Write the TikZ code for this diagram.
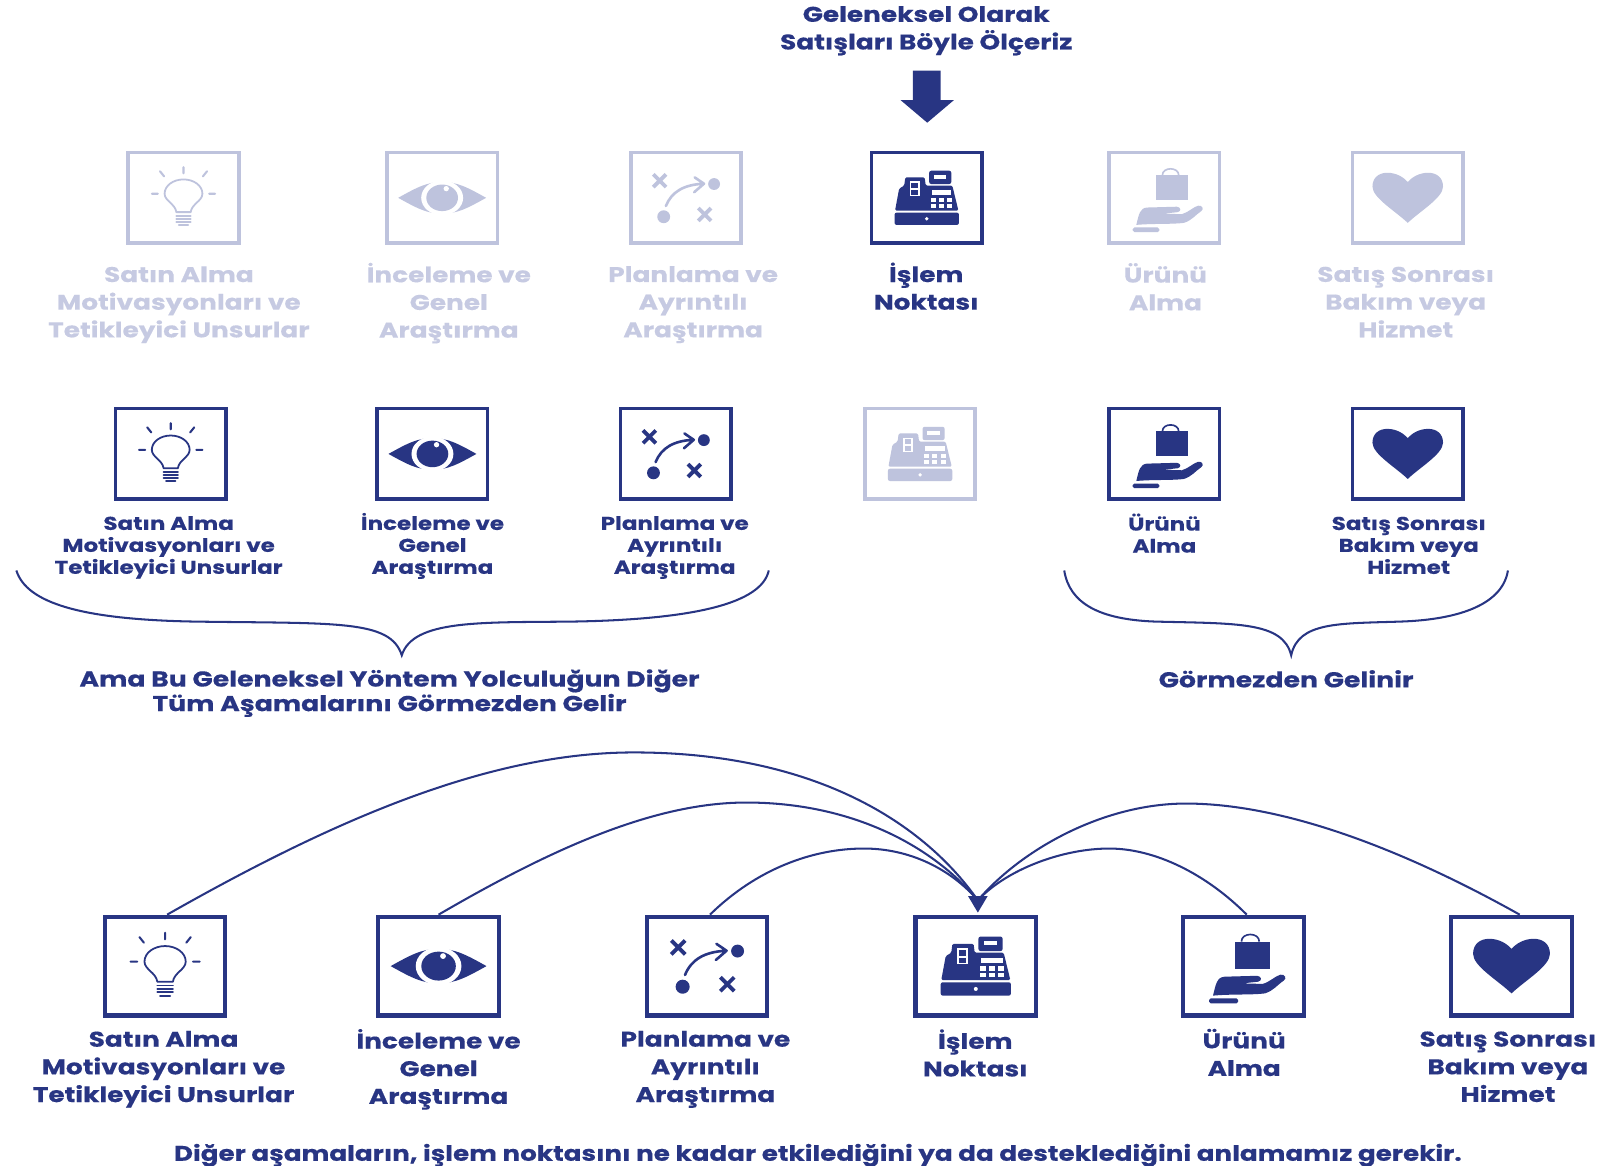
\documentclass[tikz,border=0pt]{standalone}
\usepackage{fontspec}
\setmainfont{Poppins}[FakeStretch=1.24,BoldFeatures={FakeBold=0.35}]
\usetikzlibrary{calc}
\definecolor{navy}{HTML}{283583}
\definecolor{pale}{HTML}{BEC3DD}
\definecolor{paletext}{HTML}{C6CAE2}
\tikzset{
 smallbox/.style={draw=#1,line width=2.7pt,minimum width=81pt,minimum height=66.5pt,inner sep=0pt,fill=white},
 bigbox/.style={draw=#1,line width=3pt,minimum width=88.5pt,minimum height=72.5pt,inner sep=0pt,fill=white},
 lbig/.style={font=\fontsize{15.6}{20.3}\selectfont\bfseries,align=center,inner sep=0pt,text=navy},
 lsmall/.style={font=\fontsize{13.6}{16.1}\selectfont\bfseries,align=center,inner sep=0pt,text=navy},
 conn/.style={draw=navy,line width=1.5pt},
 pics/bulb/.style={code={
  \draw[#1,line width=1.3pt,line cap=round,line join=round]
   (-7,14) .. controls (-8,6) and (-18.5,3) .. (-18.5,-4) .. controls (-18.5,-12) and (-10,-18) .. (0,-18)
   .. controls (10,-18) and (18.5,-12) .. (18.5,-4) .. controls (18.5,3) and (8,6) .. (7,14) -- cycle;
  \foreach \yy/\hw in {17.5/7,20.5/7,23.5/7}{\draw[#1,line width=1.3pt,line cap=round] (-\hw,\yy) -- (\hw,\yy);}
  \draw[#1,line width=1.5pt,line cap=round] (-4.5,26.5) -- (4.5,26.5);
  \draw[#1,line width=1.5pt,line cap=round] (0,-30) -- (0,-24) (-23,-26) -- (-19,-21) (23,-26) -- (19,-21) (-31,-4) -- (-25,-4) (25,-4) -- (31,-4);
 }},
 pics/eye/.style={code={
  \fill[#1] (-43,0) .. controls (-25,-10) and (-15,-15.5) .. (0,-15.5) .. controls (15,-15.5) and (25,-10) .. (43,0)
   .. controls (25,10) and (15,15.5) .. (0,15.5) .. controls (-15,15.5) and (-25,10) .. (-43,0) -- cycle;
  \fill[white] (0,0) ellipse [x radius=20.5,y radius=17];
  \fill[#1] (0,0) ellipse [x radius=15.5,y radius=13];
  \fill[white] (4,-9) circle [radius=2.6];
 }},
 pics/plan/.style={code={
  \draw[#1,line width=2.8pt] (-32,-23) -- (-19.5,-10.5) (-19.5,-23) -- (-32,-10.5)
     (12,10) -- (24.5,22.5) (24.5,10) -- (12,22.5);
  \fill[#1] (27.5,-13.5) circle [radius=5.8];
  \fill[#1] (-21.8,18.5) circle [radius=6.3];
  \draw[#1,line width=1.9pt,line cap=round,line join=round] (-19.7,8) .. controls (-14,-6) and (-2,-13) .. (17.6,-13.8)
     (8.5,-20) -- (17.6,-13.8) -- (8,-5.5);
 }},
 pics/hand/.style={code={
  \fill[#1] (-8,-22) rectangle (23.5,2.5);
  \draw[#1,line width=1.2pt] (-2,-22) .. controls (-2,-30.5) and (14,-30.5) .. (14,-22);
  \fill[#1,rounded corners=1.2pt] (-31,29) rectangle (-5,33.5);
  \fill[#1] (-27.5,26.5) .. controls (-25,16) and (-24,10) .. (-17,9.5) -- (12,8.7) .. controls (16,9) and (17,13) .. (13,14) -- (-1,15.5)
    -- (17,16) .. controls (24,14) and (28,9) .. (33,7.7) .. controls (37,7) and (39,11) .. (36,13)
    .. controls (30,17) and (27,22) .. (19,24.5) .. controls (8,26) and (-12,25) .. (-27.5,26.5) -- cycle;
 }},
 pics/heart/.style={code={
  \fill[#1] (0,24.5) .. controls (-12,13) and (-34.5,0) .. (-34.5,-11) .. controls (-34.5,-20) and (-28,-24.5) .. (-20,-24.5)
   .. controls (-11,-24.5) and (-4,-20) .. (0,-15.5) .. controls (4,-20) and (11,-24.5) .. (20,-24.5)
   .. controls (28,-24.5) and (34.5,-20) .. (34.5,-11) .. controls (34.5,0) and (12,13) .. (0,24.5) -- cycle;
 }},
 pics/register/.style={code={
  \fill[#1,rounded corners=1.5pt] (-31.5,14.5) rectangle (31.5,26.5);
  \fill[white] (0,20.5) circle [radius=1.8];
  \fill[#1,rounded corners=1pt] (-31,12.5) -- (-27,-9) -- (-22,-12) -- (-21,-20) -- (-2,-20) -- (-1,-12) -- (25,-12) -- (31,12.5) -- cycle;
  \fill[#1,rounded corners=1.5pt] (2.4,-26.5) rectangle (24,-13.5);
  \fill[white] (7,-22.5) rectangle (19,-18.5);
  \fill[white] (-16.5,-16) rectangle (-7,-1.5);
  \fill[#1] (-15,-14.5) rectangle (-8.5,-9.5);
  \fill[#1] (-15,-7.5) rectangle (-8.5,-3);
  \fill[white] (5,-7.5) rectangle (24,-2.5);
  \foreach \kx in {6.5,14.5,22.5}{\foreach \ky in {2,8}{\fill[white] (\kx-2.5,\ky-2) rectangle (\kx+2.5,\ky+2);}}
 }},
}
\newcommand{\smallcell}[6]{\node[smallbox=#5] (#1) at (#2,#3) {}; \pic at (#1) {#4=#6};}
\newcommand{\bigcell}[4]{\node[bigbox=navy] (#1) at (#2,#3) {}; \pic[scale=1.09] at (#1) {#4=navy};}
\begin{document}
\begin{tikzpicture}[x=0.75pt,y=-0.75pt]
\useasboundingbox (0,0) rectangle (1568,1140.5);
% title and big arrow
\node[lbig] (title) at (906,30) {Geleneksel Olarak\\Satışları Böyle Ölçeriz};
\fill[navy] (893,69) -- (920,69) -- (920,98) -- (933,98) -- (907,120) -- (881,98) -- (893,98) -- cycle;
% row 1
\smallcell{a1}{179.5}{193.5}{bulb}{pale}{pale}
\smallcell{a2}{432.5}{193.5}{eye}{pale}{pale}
\smallcell{a3}{671}{193.5}{plan}{pale}{pale}
\smallcell{a4}{906.5}{193.5}{register}{navy}{navy}
\smallcell{a5}{1139}{193.5}{hand}{pale}{pale}
\smallcell{a6}{1377}{193.5}{heart}{pale}{pale}
\node[lbig,text=paletext] (ta1) at (175,298) {Satın Alma\\Motivasyonları ve\\Tetikleyici Unsurlar};
\node[lbig,text=paletext] (ta2) at (439,296.5) {İnceleme ve\\Genel\\Araştırma};
\node[lbig,text=paletext] (ta3) at (678,298) {Planlama ve\\Ayrıntılı\\Araştırma};
\node[lbig] (ta4) at (906,280) {İşlem\\Noktası};
\node[lbig,text=paletext] (ta5) at (1140,280.5) {Ürünü\\Alma};
\node[lbig,text=paletext] (ta6) at (1375,295.5) {Satış Sonrası\\Bakım veya\\Hizmet};
% row 2
\smallcell{c1}{167}{444}{bulb}{navy}{navy}
\smallcell{c2}{423}{444}{eye}{navy}{navy}
\smallcell{c3}{661}{444}{plan}{navy}{navy}
\smallcell{c4}{900}{444}{register}{pale}{pale}
\smallcell{c5}{1139}{444}{hand}{navy}{navy}
\smallcell{c6}{1377}{444}{heart}{navy}{navy}
\node[lsmall] (tc1) at (165,535.5) {Satın Alma\\Motivasyonları ve\\Tetikleyici Unsurlar};
\node[lsmall] (tc2) at (423,534) {İnceleme ve\\Genel\\Araştırma};
\node[lsmall] (tc3) at (660,535.5) {Planlama ve\\Ayrıntılı\\Araştırma};
\node[lsmall] (tc5) at (1139,521.5) {Ürünü\\Alma};
\node[lsmall] (tc6) at (1378,533.5) {Satış Sonrası\\Bakım veya\\Hizmet};
% braces
\coordinate (bl1) at (16,558); \coordinate (bl2) at (393,641); \coordinate (bl3) at (752,558);
\coordinate (br1) at (1041,558); \coordinate (br2) at (1263,641); \coordinate (br3) at (1475,558);
\draw[conn] (bl1) .. controls (26,590) and (80,606) .. (190,608) .. controls (330,610) and (382,606) .. (bl2)
  .. controls (404,606) and (470,609) .. (560,608) .. controls (680,606) and (745,590) .. (bl3);
\draw[conn] (br1) .. controls (1046,590) and (1075,606) .. (1130,608) .. controls (1210,610) and (1255,608) .. (br2)
  .. controls (1270,608) and (1310,610) .. (1370,608) .. controls (1430,606) and (1470,590) .. (br3);
\node[lbig,font=\fontsize{15.8}{18}\selectfont\bfseries] (ama) at (381,678) {Ama Bu Geleneksel Yöntem Yolculuğun Diğer\\Tüm Aşamalarını Görmezden Gelir};
\node[lbig,font=\fontsize{15.8}{18}\selectfont\bfseries] (gor) at (1258,664) {Görmezden Gelinir};
% row 3
\bigcell{b1}{161.5}{945}{bulb}
\bigcell{b2}{429}{945}{eye}
\bigcell{b3}{691.5}{945}{plan}
\bigcell{b4}{954.5}{945}{register}
\bigcell{b5}{1216.5}{945}{hand}
\bigcell{b6}{1478.5}{945}{heart}
\coordinate (tip) at ($(b4.north)+(2,-2)$);
\coordinate (hub) at ($(tip)+(0,-12)$);
\draw[conn] ($(b1.north)+(2,0)$) .. controls (330,800) and (480,736) .. (620,736) .. controls (790,736) and (900,800) .. (hub);
\draw[conn] (b2.north) .. controls (540,830) and (640,785) .. (730,785) .. controls (830,785) and (910,825) .. (hub);
\draw[conn] ($(b3.north)+(3,0)$) .. controls (740,850) and (795,830) .. (845,830) .. controls (890,830) and (930,850) .. (hub);
\draw[conn] ($(b5.north)+(3,0)$) .. controls (1180,855) and (1130,830) .. (1085,830) .. controls (1040,830) and (985,850) .. (hub);
\draw[conn] ($(b6.north)+(8,0)$) .. controls (1380,835) and (1260,786) .. (1160,786) .. controls (1080,786) and (1000,830) .. (hub);
\fill[navy] (tip) -- ++(-9.5,-16) -- ++(19,0) -- cycle;
\node[lbig] (tb1) at (160,1046) {Satın Alma\\Motivasyonları ve\\Tetikleyici Unsurlar};
\node[lbig] (tb2) at (429,1046) {İnceleme ve\\Genel\\Araştırma};
\node[lbig] (tb3) at (690,1046) {Planlama ve\\Ayrıntılı\\Araştırma};
\node[lbig] (tb4) at (954,1030) {İşlem\\Noktası};
\node[lbig] (tb5) at (1217,1029.5) {Ürünü\\Alma};
\node[lbig] (tb6) at (1475,1043.5) {Satış Sonrası\\Bakım veya\\Hizmet};
\node[lbig,font=\fontsize{15.5}{18}\selectfont\bfseries] (cap) at (800,1130) {Diğer aşamaların, işlem noktasını ne kadar etkilediğini ya da desteklediğini anlamamız gerekir.};
\end{tikzpicture}
\end{document}
